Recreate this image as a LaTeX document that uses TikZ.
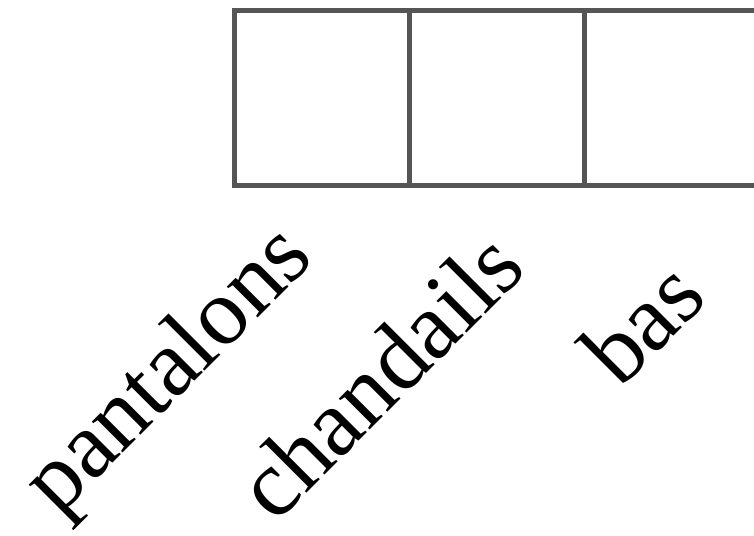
\documentclass[tikz,border=0pt]{standalone}
\usepackage{fontspec}
\setmainfont{Liberation Serif}
\usetikzlibrary{positioning}
\definecolor{boxgray}{RGB}{85,85,85}
\tikzstyle{slot}=[rectangle, draw=boxgray, line width=2.8pt, minimum size=3.5cm, inner sep=0pt]
\tikzstyle{lbl}=[rotate=45, anchor=base east, inner sep=0pt, font=\fontsize{54}{62}\selectfont]

\begin{document}
\begin{tikzpicture}
	\useasboundingbox (0,0) rectangle (15.08,-10.7);

	% the row of boxes
	\draw (6.44,-1.96) node[slot] (s1) {};
	\draw (9.94,-1.96) node[slot] (s2) {};
	\draw (13.44,-1.96) node[slot] (s3) {};

	% slanted names under the boxes
	\draw (6.32,-5.2) node[lbl] (l1) {pantalons};
	\draw (10.58,-5.42) node[lbl] (l2) {chandails};
	\draw (14.2,-6.0) node[lbl] (l3) {bas};
\end{tikzpicture}
\end{document}
